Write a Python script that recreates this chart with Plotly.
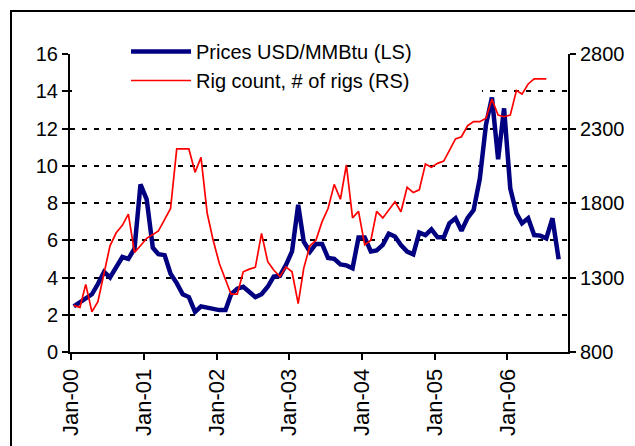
import pandas as pd
import plotly.graph_objects as go

# Monthly observations, Jan-2000 onwards
months = pd.date_range("2000-01-01", periods=81, freq="MS") + pd.Timedelta(days=14)

price_usd_mmbtu = [
    2.45, 2.68, 2.85, 3.10, 3.65, 4.30, 4.00, 4.50, 5.10, 5.00, 5.55, 9.00,
    8.20, 5.60, 5.25, 5.20, 4.20, 3.70, 3.10, 2.95, 2.15, 2.45, 2.38, 2.32,
    2.25, 2.25, 3.10, 3.40, 3.50, 3.22, 2.95, 3.10, 3.50, 4.05, 4.09, 4.66,
    5.40, 7.90, 5.92, 5.38, 5.80, 5.80, 5.05, 5.00, 4.70, 4.65, 4.50, 6.15,
    6.15, 5.40, 5.45, 5.75, 6.35, 6.20, 5.74, 5.39, 5.24, 6.41, 6.28, 6.59,
    6.16, 6.16, 6.91, 7.18, 6.51, 7.20, 7.62, 9.30, 12.20, 13.66, 10.35, 13.08,
    8.79, 7.45, 6.91, 7.18, 6.28, 6.25, 6.10, 7.18, 4.98,
]

rig_count = [
    1113, 1100, 1254, 1069, 1138, 1325, 1513, 1600, 1650, 1725, 1469, 1513,
    1563, 1588, 1613, 1688, 1763, 2163, 2163, 2163, 2006, 2106, 1731, 1550,
    1394, 1281, 1188, 1188, 1338, 1356, 1369, 1596, 1406, 1350, 1306, 1371,
    1338, 1125, 1363, 1513, 1550, 1675, 1763, 1925, 1825, 2056, 1700, 1744,
    1519, 1550, 1744, 1700, 1750, 1809, 1741, 1905, 1870, 1888, 2061, 2040,
    2066, 2081, 2151, 2230, 2245, 2319, 2346, 2346, 2369, 2496, 2390, 2379,
    2390, 2554, 2531, 2599, 2633, 2633, 2633,
]

tick_dates = pd.date_range("2000-01-01", periods=7, freq="YS")
tick_labels = ["Jan-00", "Jan-01", "Jan-02", "Jan-03", "Jan-04", "Jan-05", "Jan-06"]

FONT = "Liberation Sans, Arial, sans-serif"

fig = go.Figure()
fig.add_trace(go.Scatter(
    x=months, y=price_usd_mmbtu, name="Prices USD/MMBtu (LS)",
    mode="lines", line=dict(color="#000080", width=4.5), yaxis="y",
))
fig.add_trace(go.Scatter(
    x=months[:len(rig_count)], y=rig_count, name="Rig count, # of rigs (RS)",
    mode="lines", line=dict(color="#FF0000", width=1.7), yaxis="y2",
))

W, H = 635, 446
L, R, T, B = 70, 67, 54, 94
pw, ph = W - L - R, H - T - B

def px(x):
    return (x - L) / pw

def py(y):
    return (H - B - y) / ph

fig.update_layout(
    width=W, height=H,
    margin=dict(l=L, r=R, t=T, b=B, pad=0, autoexpand=False),
    paper_bgcolor="white", plot_bgcolor="white",
    font=dict(family=FONT, color="black", size=20),
    showlegend=True,
    legend=dict(
        x=px(126), y=py(32), xanchor="left", yanchor="top",
        bgcolor="rgba(255,255,255,0)", borderwidth=0,
        font=dict(size=20, family=FONT, color="black"),
        itemwidth=60, tracegroupgap=0,
    ),
    xaxis=dict(
        type="date", automargin=False,
        range=["1999-12-27", "2006-11-01"],
        tickvals=tick_dates, ticktext=tick_labels,
        tickangle=-90, tickfont=dict(size=22, family=FONT),
        showgrid=False, zeroline=False,
        showline=True, linecolor="black", linewidth=2,
        ticks="outside", ticklen=6, tickwidth=2, tickcolor="black",
    ),
    yaxis=dict(
        range=[0, 16], dtick=2, tick0=0, automargin=False,
        showgrid=True, gridcolor="black", gridwidth=2, griddash="5px,7px",
        zeroline=False,
        showline=True, linecolor="black", linewidth=2,
        ticks="outside", ticklen=6, tickwidth=2, tickcolor="black",
        tickfont=dict(size=20, family=FONT),
    ),
    yaxis2=dict(
        range=[800, 2800], dtick=500, tick0=800, automargin=False,
        overlaying="y", side="right",
        showgrid=False, zeroline=False,
        showline=True, linecolor="black", linewidth=2,
        ticks="outside", ticklen=6, tickwidth=2, tickcolor="black",
        tickfont=dict(size=20, family=FONT),
    ),
    shapes=[
        # white legend backdrop hiding the upper gridlines
        dict(type="rect", xref="paper", yref="paper",
             x0=px(72), x1=px(482), y0=py(100), y1=py(50),
             fillcolor="white", line=dict(width=0), layer="above"),
        # outer chart border
        dict(type="rect", xref="paper", yref="paper",
             x0=px(11), x1=px(660), y0=py(470), y1=py(11),
             fillcolor="rgba(0,0,0,0)", line=dict(color="black", width=2),
             layer="above"),
    ],
)

fig.write_html(
    "out.html",
    config={"displayModeBar": False},
    post_script="document.body.style.margin='0';document.body.style.overflow='hidden';",
)
